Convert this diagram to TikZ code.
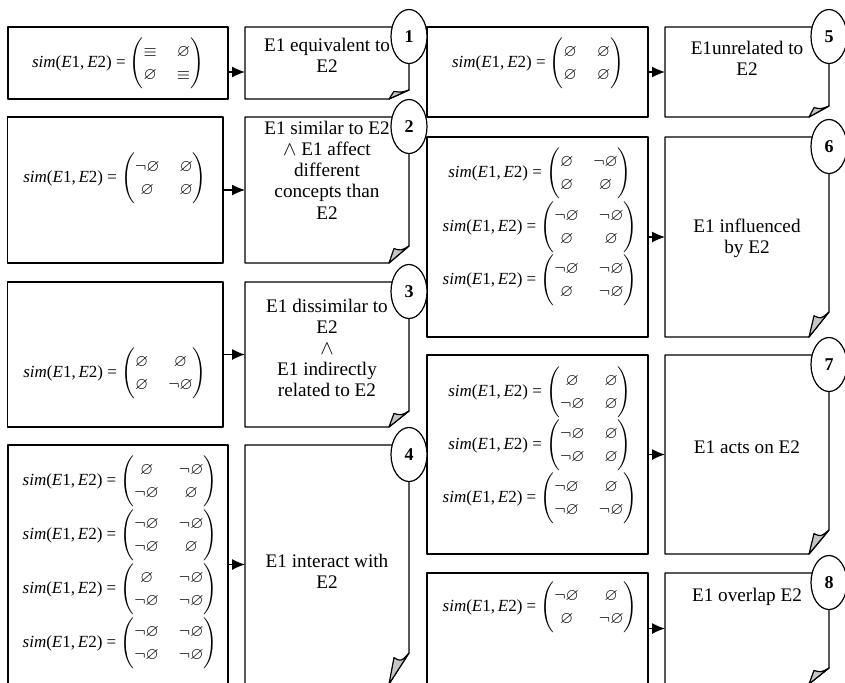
\documentclass[tikz,border=0pt]{standalone}
\usepackage{amsmath}
\usepackage{amssymb}
\usepackage{fontspec}
\setmainfont{Liberation Serif}
\usetikzlibrary{shapes.geometric,arrows.meta,positioning,calc}

\newcommand{\eset}{\varnothing}
\newcommand{\neset}{\neg\varnothing}
\newcommand{\simmat}[4]{\textit{sim}(\textit{E}1,\,\textit{E}2) = $\begin{pmatrix}#1 & #2\\ #3 & #4\end{pmatrix}$}
% outline of a note with its folded corner: #1 node, #2 fold height
\newcommand{\foldnote}[2]{%
  \draw[edge] (#1.north west) -- (#1.north east) -- ([yshift=#2]#1.south east)
    -- ([xshift=-10pt]#1.south east) -- (#1.south west) -- cycle;
  \filldraw[edge,fill=gray!45] ([yshift=#2]#1.south east)
    .. controls ([xshift=-4pt,yshift=0.72*#2]#1.south east) .. ([xshift=-7.5pt,yshift=0.85*#2]#1.south east)
    -- ([xshift=-10pt]#1.south east) -- cycle;
}

\begin{document}
\begin{tikzpicture}[x=0.5pt,y=-0.5pt,
   edge/.style={line width=0.6pt,line join=round},
   mbox/.style={draw,edge,inner sep=0pt,outer sep=0pt},
   note/.style={inner sep=0pt,outer sep=0pt,minimum width=82pt},
   eq/.style={inner sep=0pt,font=\fontsize{8.5}{11.5}\selectfont},
   txt/.style={inner sep=0pt,align=center,font=\fontsize{9.6}{10.6}\selectfont},
   num/.style={ellipse,draw,edge,fill=white,minimum width=18pt,minimum height=27pt,
     inner sep=0pt,font=\fontsize{9}{9}\selectfont\bfseries},
   arr/.style={edge,-{Latex[length=6.5pt,width=5.5pt]}}]
  \useasboundingbox (0,0) rectangle (845,682);
  \clip (0,0) rectangle (845,682);

  % left column
  \node[mbox,minimum width=110pt,minimum height=36pt] (m1) at (118,63) {};
  \node[note,minimum height=36pt] (n1) at (327,63) {};
  \node[mbox,minimum width=107.75pt,minimum height=73pt] (m2) at (115.25,190) {};
  \node[note,minimum height=73pt] (n2) at (327,190) {};
  \node[mbox,minimum width=107.75pt,minimum height=72.5pt] (m3) at (115.25,354.5) {};
  \node[note,minimum height=72.5pt] (n3) at (327,354.5) {};
  \node[mbox,minimum width=110pt,minimum height=119.5pt] (m4) at (118,564.5) {};
  \node[note,minimum height=119.5pt] (n4) at (327,564.5) {};
  % right column
  \node[mbox,minimum width=110.5pt,minimum height=45pt] (m5) at (537.5,72) {};
  \node[note,minimum height=45pt] (n5) at (747,72) {};
  \node[mbox,minimum width=110.5pt,minimum height=100pt] (m6) at (537.5,237) {};
  \node[note,minimum height=100pt] (n6) at (747,237) {};
  \node[mbox,minimum width=110.5pt,minimum height=99.5pt] (m7) at (537.5,454.5) {};
  \node[note,minimum height=99.5pt] (n7) at (747,454.5) {};
  \node[mbox,minimum width=110.5pt,minimum height=55.5pt] (m8) at (537.5,628.5) {};
  \node[note,minimum height=55.5pt] (n8) at (747,628.5) {};

  \foldnote{n1}{4.5pt}
  \foldnote{n2}{8.5pt}
  \foldnote{n3}{8pt}
  \foldnote{n4}{15.5pt}
  \foldnote{n5}{5.5pt}
  \foldnote{n6}{12.5pt}
  \foldnote{n7}{12pt}
  \foldnote{n8}{8pt}

  % similarity matrices
  \node[eq] (q1) at (118,63) {\simmat{\equiv}{\eset}{\eset}{\equiv}};
  \node[eq] (q2) at (115,178) {\simmat{\neset}{\eset}{\eset}{\eset}};
  \node[eq] (q3) at (115,373) {\simmat{\eset}{\eset}{\eset}{\neset}};
  \node[eq] (q4a) at (120,481) {\simmat{\eset}{\neset}{\neset}{\eset}};
  \node[eq] (q4b) at (120,535) {\simmat{\neset}{\neset}{\neset}{\eset}};
  \node[eq] (q4c) at (120,589) {\simmat{\eset}{\neset}{\neset}{\neset}};
  \node[eq] (q4d) at (120,643) {\simmat{\neset}{\neset}{\neset}{\neset}};
  \node[eq] (q5) at (538,63) {\simmat{\eset}{\eset}{\eset}{\eset}};
  \node[eq] (q6a) at (540,173) {\simmat{\eset}{\neset}{\eset}{\eset}};
  \node[eq] (q6b) at (540,227) {\simmat{\neset}{\neset}{\eset}{\eset}};
  \node[eq] (q6c) at (540,280) {\simmat{\neset}{\neset}{\eset}{\neset}};
  \node[eq] (q7a) at (540,392) {\simmat{\eset}{\eset}{\neset}{\eset}};
  \node[eq] (q7b) at (540,445) {\simmat{\neset}{\eset}{\neset}{\eset}};
  \node[eq] (q7c) at (540,498) {\simmat{\neset}{\eset}{\neset}{\neset}};
  \node[eq] (q8) at (540,607) {\simmat{\neset}{\eset}{\eset}{\neset}};

  % relations
  \node[txt] (t1) at (327,55) {E1 equivalent to\\E2};
  \node[txt] (t2) at (327,170) {E1 similar to E2\\$\wedge$ E1 affect\\different\\concepts than\\E2};
  \node[txt] (t3) at (327,348) {E1 dissimilar to\\E2\\$\wedge$\\E1 indirectly\\related to E2};
  \node[txt] (t4) at (327,571) {E1 interact with\\E2};
  \node[txt] (t5) at (747,58) {E1unrelated to\\E2};
  \node[txt] (t6) at (747,238) {E1 influenced\\by E2};
  \node[txt] (t7) at (747,447) {E1 acts on E2};
  \node[txt] (t8) at (747,597) {E1 overlap E2};

  \draw[arr] ([yshift=-4.5pt]m1.east) -- ([yshift=-4.5pt]n1.west);
  \draw[arr] (m2) -- (n2);
  \draw[arr] (m3) -- (n3);
  \draw[arr] (m4) -- (n4);
  \draw[arr] (m5) -- (n5);
  \draw[arr] (m6) -- (n6);
  \draw[arr] (m7) -- (n7);
  \draw[arr] (m8) -- (n8);

  % numbers
  \node[num] (c1) at ([yshift=-4.75pt]n1.north east) {1};
  \node[num] (c2) at ([yshift=-4.75pt]n2.north east) {2};
  \node[num] (c3) at ([yshift=-4.75pt]n3.north east) {3};
  \node[num] (c4) at ([yshift=-4.75pt]n4.north east) {4};
  \node[num] (c5) at ([yshift=-4.75pt]n5.north east) {5};
  \node[num] (c6) at ([yshift=-4.75pt]n6.north east) {6};
  \node[num] (c7) at ([yshift=-4.75pt]n7.north east) {7};
  \node[num] (c8) at ([yshift=-4.75pt]n8.north east) {8};
\end{tikzpicture}
\end{document}
